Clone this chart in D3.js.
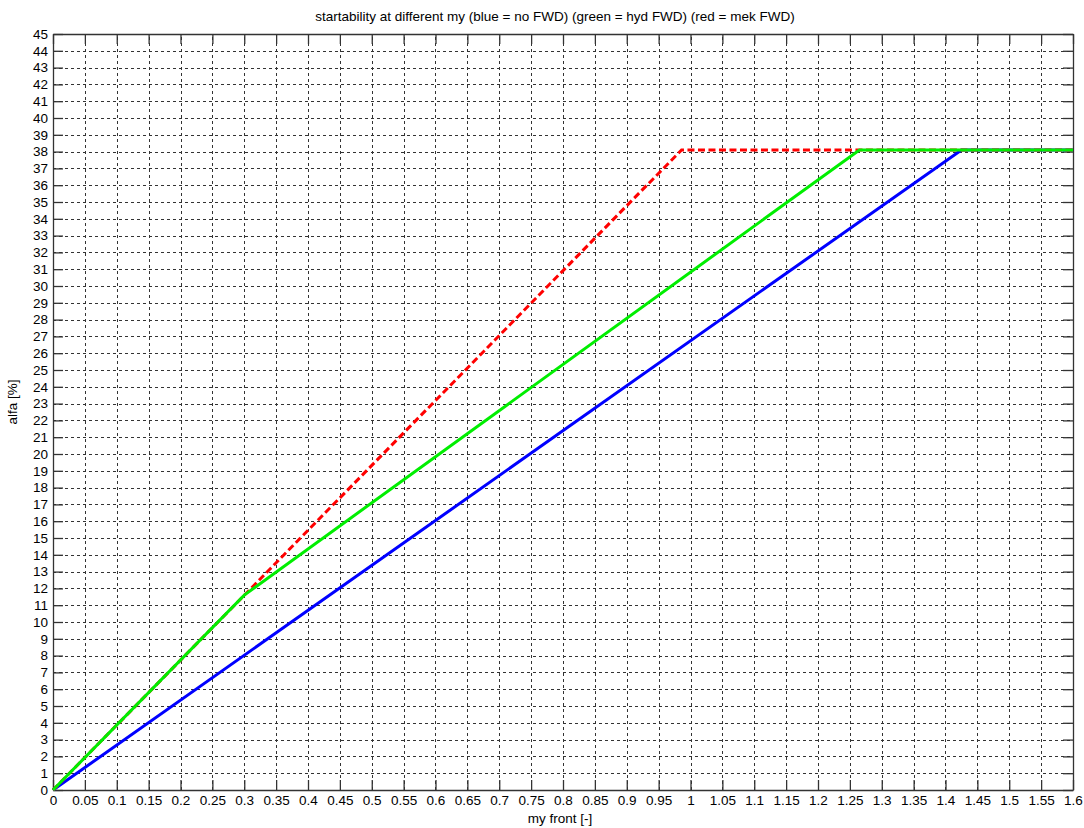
<!DOCTYPE html>
<html>
<head>
<meta charset="utf-8">
<script src="https://cdn.jsdelivr.net/npm/d3@7"></script>
<style>
  body { margin: 0; background: #fff; }
  text { font-family: "Liberation Sans", Arial, sans-serif; }
</style>
</head>
<body>
<script>
// chart data
const title = "startability at different my (blue = no FWD) (green = hyd FWD) (red = mek FWD)";
const xLabel = "my front [-]";
const yLabel = "alfa [%]";
const xTicks = d3.range(0, 33).map(i => +(i * 0.05).toFixed(2));
const yTicks = d3.range(0, 46);

const blue = [[0, 0], [1.425, 38.1], [1.6, 38.1]];
const red = [[0, 0], [0.986, 38.1], [1.6, 38.1]];
const green = [[0, 0], [0.3, 11.6], [1.265, 38.1], [1.6, 38.1]];

const width = 1084, height = 828;
const marginTop = 34, marginRight = 11, marginBottom = 38, marginLeft = 53;
const fontSize = 13.5;

const x = d3.scaleLinear([0, 1.6], [marginLeft, width - marginRight]);
const y = d3.scaleLinear([0, 45], [height - marginBottom, marginTop]);

const svg = d3.select("body").append("svg")
  .attr("width", width)
  .attr("height", height);

// dotted grid
const grid = svg.append("g")
  .attr("stroke", "#333")
  .attr("stroke-width", 1)
  .attr("stroke-dasharray", "3,3");
grid.selectAll(".gx")
  .data(xTicks.slice(1, -1))
  .join("line")
  .attr("x1", d => Math.round(x(d)) + 0.5).attr("x2", d => Math.round(x(d)) + 0.5)
  .attr("y1", y(0)).attr("y2", y(45));
grid.selectAll(".gy")
  .data(yTicks.slice(1, -1))
  .join("line")
  .attr("y1", d => Math.round(y(d)) + 0.5).attr("y2", d => Math.round(y(d)) + 0.5)
  .attr("x1", x(0)).attr("x2", x(1.6));

// axes with inward ticks on all four sides
const tickLen = 10;
const axisFont = g => g.attr("font-size", fontSize).attr("font-family", "Liberation Sans, Arial, sans-serif");

svg.append("g")
  .attr("transform", `translate(0,${y(0)})`)
  .call(d3.axisBottom(x).tickValues(xTicks).tickFormat(d => d3.format("")(d)).tickSizeInner(-tickLen).tickSizeOuter(0).tickPadding(5))
  .call(axisFont)
  .call(g => g.selectAll("text").attr("fill", "#000"));

svg.append("g")
  .attr("transform", `translate(0,${y(45)})`)
  .call(d3.axisTop(x).tickValues(xTicks).tickFormat("").tickSizeInner(-tickLen).tickSizeOuter(0));

svg.append("g")
  .attr("transform", `translate(${x(0)},0)`)
  .call(d3.axisLeft(y).tickValues(yTicks).tickSizeInner(-tickLen).tickSizeOuter(0).tickPadding(5))
  .call(axisFont)
  .call(g => g.selectAll("text").attr("fill", "#000"));

svg.append("g")
  .attr("transform", `translate(${x(1.6)},0)`)
  .call(d3.axisRight(y).tickValues(yTicks).tickFormat("").tickSizeInner(-tickLen).tickSizeOuter(0));

svg.selectAll(".domain, .tick line").attr("stroke", "#333").attr("stroke-width", 1.3);

// lines
const line = d3.line().x(d => x(d[0])).y(d => y(d[1]));
const series = [
  {data: blue, color: "#0000ff", dash: null},
  {data: red, color: "#ff0000", dash: "7,3.5"},
  {data: green, color: "#00ee00", dash: null}
];
svg.append("g")
  .attr("fill", "none")
  .selectAll("path")
  .data(series)
  .join("path")
  .attr("stroke", d => d.color)
  .attr("stroke-width", 3)
  .attr("stroke-dasharray", d => d.dash)
  .attr("d", d => line(d.data));

// title and labels
svg.append("text")
  .attr("x", 555).attr("y", 21)
  .attr("text-anchor", "middle").attr("font-size", fontSize)
  .text(title);

svg.append("text")
  .attr("x", 560).attr("y", 823)
  .attr("text-anchor", "middle").attr("font-size", fontSize)
  .text(xLabel);

svg.append("text")
  .attr("transform", `translate(17,402) rotate(-90)`)
  .attr("text-anchor", "middle").attr("font-size", fontSize)
  .text(yLabel);
</script>
</body>
</html>
